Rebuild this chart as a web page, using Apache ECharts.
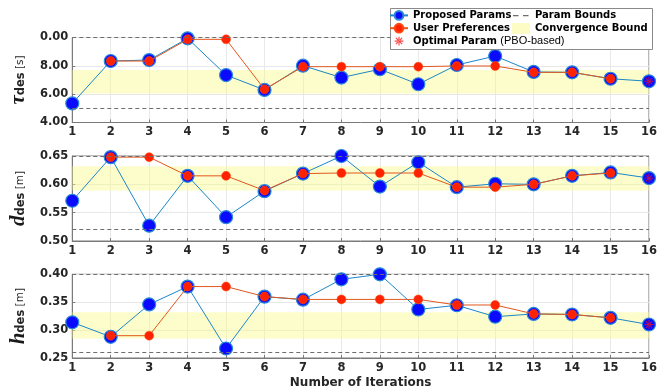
<!DOCTYPE html>
<html>
<head>
<meta charset="utf-8">
<script src="https://cdn.jsdelivr.net/npm/echarts@6/dist/echarts.min.js"></script>
<style>html,body{margin:0;padding:0;background:#fff}#c{width:660px;height:390px}</style>
</head>
<body>
<div id="c"></div>
<script>
const categories = ['1','2','3','4','5','6','7','8','9','10','11','12','13','14','15','16'];
const tauProposed = [5.35,8.34,8.41,9.94,7.35,6.30,8.01,7.17,7.76,6.70,8.06,8.69,7.57,7.54,7.09,6.91];
const tauUser     = [null,8.34,8.34,9.87,9.87,6.34,7.94,7.94,7.94,7.94,7.99,7.99,7.54,7.54,7.09,null];
const dProposed   = [0.571,0.648,0.527,0.615,0.542,0.588,0.619,0.650,0.596,0.639,0.595,0.601,0.600,0.615,0.621,0.611];
const dUser       = [null,0.648,0.648,0.615,0.615,0.589,0.619,0.620,0.620,0.620,0.595,0.595,0.600,0.615,0.620,null];
const hProposed   = [0.314,0.288,0.346,0.378,0.267,0.360,0.3545,0.391,0.400,0.337,0.3445,0.324,0.329,0.328,0.322,0.310];
const hUser       = [null,0.290,0.290,0.378,0.378,0.360,0.355,0.355,0.355,0.355,0.345,0.345,0.329,0.328,0.322,null];
const tauBounds = [5.0, 10.0];
const dBounds   = [0.52, 0.65];
const hBounds   = [0.258, 0.40];
const tauBand = [6.05, 7.71];
const dBand   = [0.589, 0.632];
const hBand   = [0.285, 0.332];
const optimalIter = '16';
const optimalValues = [6.91, 0.611, 0.310];
const tauTickLabels = ['4.00', '6.00', '8.00', '0.00'];
const dTickLabels = ['0.50', '0.55', '0.60', '0.65'];
const hTickLabels = ['0.25', '0.30', '0.35', '0.40'];
const yRanges = [[4, 10, 2], [0.50, 0.65, 0.05], [0.25, 0.40, 0.05]];

const proposed = [tauProposed, dProposed, hProposed];
const user = [tauUser, dUser, hUser];
const bounds = [tauBounds, dBounds, hBounds];
const bands = [tauBand, dBand, hBand];
const tickLabelSets = [tauTickLabels, dTickLabels, hTickLabels];
const yNames = [
  '{a|τ}{b|des} {c|[s]}',
  '{a|d}{b|des} {c|[m]}',
  '{a|h}{b|des} {c|[m]}'
];

const TXT = '#262626';
const AX = '#7a7a7a';
const GRIDC = '#e8e8e8';
const star = 'path://M-0.9,-10 L0.9,-10 L0.9,10 L-0.9,10 Z M-10,-0.9 L10,-0.9 L10,0.9 L-10,0.9 Z M-6.4,-7.7 L7.7,6.4 L6.4,7.7 L-7.7,-6.4 Z M-6.4,7.7 L7.7,-6.4 L6.4,-7.7 L-7.7,6.4 Z';
const starLegend = 'path://M-14,-10 L-14,-10 Z M14,10 L14,10 Z M-1,-8 L1,-8 L1,8 L-1,8 Z M-8,-1 L8,-1 L8,1 L-8,1 Z M-5,-6.4 L6.4,5 L5,6.4 L-6.4,-5 Z M-5,6.4 L6.4,-5 L5,-6.4 L-6.4,5 Z';
const dashLegend = 'path://M0,0 L0,0 Z M18,11 L18,11 Z M1,5 L6.5,5 L6.5,6.2 L1,6.2 Z M11,5 L16.5,5 L16.5,6.2 L11,6.2 Z';

const grids = [
  {left: 58, right: 8, top: 37.5, height: 85},
  {left: 58, right: 8, top: 156, height: 85},
  {left: 58, right: 8, top: 274.3, height: 84.7}
].map(g => Object.assign(g, {show: true, borderColor: AX, borderWidth: 1, backgroundColor: 'transparent'}));

const xAxes = [0,1,2].map(i => ({
  type: 'category', gridIndex: i, data: categories, boundaryGap: false,
  axisLine: {lineStyle: {color: AX}},
  axisTick: {inside: true, length: 3, lineStyle: {color: AX}},
  axisLabel: {color: TXT, fontFamily: 'DejaVu Sans', fontWeight: 'bold', fontSize: 11.5, margin: 4},
  splitLine: {show: true, lineStyle: {color: GRIDC}},
  name: i === 2 ? 'Number of Iterations' : '',
  nameLocation: 'middle', nameGap: 19,
  nameTextStyle: {color: TXT, fontFamily: 'DejaVu Sans', fontWeight: 'bold', fontSize: 12}
}));

const yAxes = [0,1,2].map(i => ({
  type: 'value', gridIndex: i, min: yRanges[i][0], max: yRanges[i][1], interval: yRanges[i][2],
  axisLine: {show: true, lineStyle: {color: AX}},
  axisTick: {show: true, inside: true, length: 3, lineStyle: {color: AX}},
  axisLabel: {
    color: TXT, fontFamily: 'DejaVu Sans', fontWeight: 'bold', fontSize: 11.5, margin: 4,
    formatter: v => {
      const k = Math.round((v - yRanges[i][0]) / yRanges[i][2]);
      return tickLabelSets[i][k] !== undefined ? tickLabelSets[i][k] : '';
    }
  },
  splitLine: {show: true, lineStyle: {color: GRIDC}},
  name: yNames[i], nameLocation: 'middle', nameRotate: 90, nameGap: 31,
  nameTextStyle: {
    color: TXT,
    rich: {
      a: {fontFamily: 'Liberation Serif', fontStyle: 'italic', fontWeight: 'bold', fontSize: 21, color: '#1a1a1a'},
      b: {fontFamily: 'DejaVu Sans', fontWeight: 'bold', fontSize: 11.5, color: TXT, padding: [6, 0, 0, 0]},
      c: {fontFamily: 'DejaVu Sans', fontSize: 10.5, color: TXT, padding: [4, 0, 0, 0]}
    }
  }
}));

const series = [];
for (let i = 0; i < 3; i++) {
  series.push({
    name: 'Convergence Bound', type: 'line', xAxisIndex: i, yAxisIndex: i, data: [],
    itemStyle: {color: '#fcfcc4'}, lineStyle: {width: 0}, symbol: 'none', silent: true,
    markArea: {silent: true, itemStyle: {color: 'rgba(250,250,140,0.45)'},
      data: [[{yAxis: bands[i][0]}, {yAxis: bands[i][1]}]]}
  });
  series.push({
    name: 'Param Bounds', type: 'line', xAxisIndex: i, yAxisIndex: i, data: [],
    symbol: 'none', lineStyle: {color: '#6e6e6e', type: 'dashed', width: 1}, itemStyle: {color: '#6e6e6e'},
    markLine: {silent: true, symbol: 'none', label: {show: false},
      lineStyle: {color: '#6e6e6e', type: [4, 3], width: 1},
      data: bounds[i].map(b => ({yAxis: b}))}
  });
  series.push({
    name: 'Proposed Params', type: 'line', xAxisIndex: i, yAxisIndex: i, data: proposed[i],
    symbol: 'circle', symbolSize: 13,
    lineStyle: {color: '#1b86c8', width: 1},
    itemStyle: {color: '#0a0aff', borderColor: '#2a8ad6', borderWidth: 1.2},
    emphasis: {disabled: true}, z: 3
  });
  series.push({
    name: 'User Preferences', type: 'line', xAxisIndex: i, yAxisIndex: i, data: user[i],
    symbol: 'circle', symbolSize: 9, connectNulls: false,
    lineStyle: {color: '#e2571c', width: 1},
    itemStyle: {color: '#ff2200', borderColor: '#ff4a10', borderWidth: 0.5},
    emphasis: {disabled: true}, z: 4
  });
  series.push({
    name: 'Optimal Param', type: 'scatter', xAxisIndex: i, yAxisIndex: i,
    data: [[optimalIter, optimalValues[i]]],
    symbol: star, symbolSize: 9, itemStyle: {color: '#ff1010'},
    emphasis: {disabled: true}, z: 5
  });
}

const legendText = {color: '#000', fontFamily: 'DejaVu Sans', fontWeight: 'bold', fontSize: 10,
  rich: {n: {fontFamily: 'Liberation Sans', fontWeight: 'normal', fontSize: 11, color: '#000'}}};

const option = {
  animation: false,
  backgroundColor: '#fff',
  grid: grids,
  xAxis: xAxes,
  yAxis: yAxes,
  legend: [
    {
      orient: 'vertical', left: 389, top: 10, padding: 0, itemGap: 2, itemWidth: 18, itemHeight: 11,
      selectedMode: false, z: 120, textStyle: legendText,
      data: ['Proposed Params', 'User Preferences', {name: 'Optimal Param', icon: starLegend}],
      formatter: n => n === 'Optimal Param' ? 'Optimal Param {n|(PBO-based)}' : n
    },
    {
      orient: 'vertical', left: 512, top: 10, padding: 0, itemGap: 2, itemWidth: 18, itemHeight: 11,
      selectedMode: false, z: 120, textStyle: legendText,
      data: [{name: 'Param Bounds', icon: dashLegend, itemStyle: {color: '#6e6e6e'}},
             {name: 'Convergence Bound', icon: 'rect', itemStyle: {color: '#fcfcc4'}}]
    }
  ],
  graphic: [{
    type: 'rect', left: 390, top: 8, z: 100,
    shape: {width: 262, height: 41},
    style: {fill: '#fff', stroke: '#8a8a8a', lineWidth: 1}
  }],
  series: series
};

const chart = echarts.init(document.getElementById('c'), null, {renderer: 'canvas'});
chart.setOption(option);
</script>
</body>
</html>
